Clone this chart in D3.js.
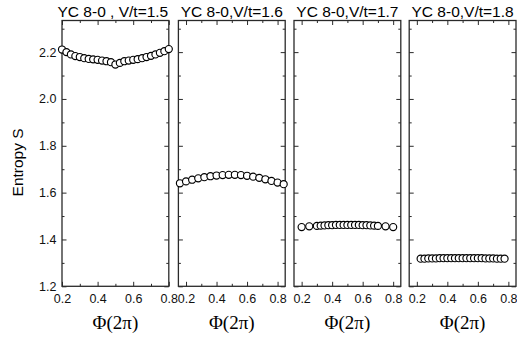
<!DOCTYPE html>
<html><head><meta charset="utf-8">
<script src="https://cdn.jsdelivr.net/npm/d3@7"></script>
<style>body{margin:0;background:#fff}svg{display:block}</style>
</head><body><svg id="c" width="517" height="337"></svg>
<script>
// ---- data ----
const panelTitles = ["YC 8-0 , V/t=1.5", "YC 8-0,V/t=1.6", "YC 8-0,V/t=1.7", "YC 8-0,V/t=1.8"];
const xDomains = [[0.2, 0.8], [0.15, 0.85], [0.15, 0.85], [0.15, 0.85]];
const yDomain = [1.2, 2.335];
const xTicks = [0.2, 0.4, 0.6, 0.8];
const xMinorTicks = [0.3, 0.5, 0.7];
const yTicks = [1.2, 1.4, 1.6, 1.8, 2.0, 2.2];
const yMinorTicks = [1.3, 1.5, 1.7, 1.9, 2.1, 2.3];
const yLabel = "Entropy S";
const xLabel = "Φ(2π)";

const phi1 = [0.2,0.225,0.25,0.275,0.3,0.325,0.35,0.375,0.4,0.425,0.45,0.475,0.5,0.525,0.55,0.575,0.6,0.625,0.65,0.675,0.7,0.725,0.75,0.775,0.8];
const s1 = [2.211,2.200,2.190,2.183,2.179,2.174,2.171,2.169,2.167,2.164,2.161,2.157,2.147,2.154,2.161,2.164,2.167,2.170,2.174,2.179,2.184,2.190,2.197,2.204,2.213];

const phi2 = [0.16,0.2,0.24,0.28,0.32,0.36,0.4,0.44,0.48,0.52,0.56,0.6,0.64,0.68,0.72,0.76,0.8,0.84];
const s2 = [1.640,1.648,1.655,1.661,1.666,1.670,1.673,1.675,1.676,1.676,1.675,1.672,1.668,1.663,1.657,1.650,1.643,1.636];

const phi3 = [0.2,0.25,0.3,0.325,0.35,0.375,0.4,0.425,0.45,0.475,0.5,0.525,0.55,0.575,0.6,0.625,0.65,0.675,0.7,0.75,0.8];
const s3 = [1.453,1.456,1.458,1.459,1.460,1.461,1.461,1.462,1.462,1.462,1.462,1.462,1.462,1.462,1.461,1.461,1.460,1.459,1.458,1.456,1.453];

const phi4 = [0.225,0.25,0.275,0.3,0.325,0.35,0.375,0.4,0.425,0.45,0.475,0.5,0.525,0.55,0.575,0.6,0.625,0.65,0.675,0.7,0.725,0.75,0.775];
const s4 = [1.318,1.318,1.319,1.319,1.319,1.320,1.320,1.320,1.320,1.320,1.320,1.320,1.320,1.320,1.320,1.320,1.320,1.319,1.319,1.319,1.318,1.318,1.318];

const seriesX = [phi1, phi2, phi3, phi4];
const seriesY = [s1, s2, s3, s4];

// ---- layout ----
const lefts = [62, 178.4, 294, 409.2];
const pw = 106.8, plotTop = 20.5, plotBottom = 286.3;
const axisColor = "#2a2a2a";
const sans = "'Liberation Sans', Arial, sans-serif";
const serif = "'Liberation Serif', 'Times New Roman', serif";

const svg = d3.select("#c");
const y = d3.scaleLinear().domain(yDomain).range([plotBottom, plotTop]);

function styleAxis(g) {
  g.select(".domain").remove();
  g.selectAll("line").attr("stroke", axisColor).attr("stroke-width", 1);
  g.selectAll("text").attr("fill", "#111").style("font-family", sans).style("font-size", "12.5px");
}

seriesX.forEach((xs, i) => {
  const L = lefts[i];
  const x = d3.scaleLinear().domain(xDomains[i]).range([L, L + pw]);
  const g = svg.append("g");

  g.append("g").attr("transform", `translate(0,${plotBottom})`)
    .call(d3.axisBottom(x).tickValues(xTicks).tickFormat(d3.format(".1f")).tickSize(-4.5).tickSizeOuter(0).tickPadding(7.5))
    .call(styleAxis);
  g.append("g").attr("transform", `translate(0,${plotBottom})`)
    .call(d3.axisBottom(x).tickValues(xMinorTicks).tickFormat("").tickSize(-2.5).tickSizeOuter(0))
    .call(styleAxis);
  g.append("g").attr("transform", `translate(0,${plotTop})`)
    .call(d3.axisTop(x).tickValues(xTicks).tickFormat("").tickSize(-4.5).tickSizeOuter(0))
    .call(styleAxis);
  g.append("g").attr("transform", `translate(0,${plotTop})`)
    .call(d3.axisTop(x).tickValues(xMinorTicks).tickFormat("").tickSize(-2.5).tickSizeOuter(0))
    .call(styleAxis);
  g.append("g").attr("transform", `translate(${L},0)`)
    .call(d3.axisLeft(y).tickValues(yTicks).tickFormat(i === 0 ? d3.format(".1f") : "").tickSize(-4.5).tickSizeOuter(0).tickPadding(5.5))
    .call(styleAxis);
  g.append("g").attr("transform", `translate(${L},0)`)
    .call(d3.axisLeft(y).tickValues(yMinorTicks).tickFormat("").tickSize(-2.5).tickSizeOuter(0))
    .call(styleAxis);
  g.append("g").attr("transform", `translate(${L + pw},0)`)
    .call(d3.axisRight(y).tickValues(yTicks).tickFormat("").tickSize(-4.5).tickSizeOuter(0))
    .call(styleAxis);
  g.append("g").attr("transform", `translate(${L + pw},0)`)
    .call(d3.axisRight(y).tickValues(yMinorTicks).tickFormat("").tickSize(-2.5).tickSizeOuter(0))
    .call(styleAxis);

  g.append("rect").attr("x", L).attr("y", plotTop).attr("width", pw).attr("height", plotBottom - plotTop)
    .attr("fill", "none").attr("stroke", axisColor).attr("stroke-width", 1.3);

  g.append("g").selectAll("circle").data(xs.map((v, k) => [v, seriesY[i][k]])).join("circle")
    .attr("cx", d => x(d[0])).attr("cy", d => y(d[1])).attr("r", 3.55)
    .attr("fill", "#fff").attr("stroke", "#000").attr("stroke-width", 1.15);

  svg.append("text").attr("x", L + pw / 2 - (i === 0 ? 2.5 : 0)).attr("y", 16.5)
    .attr("text-anchor", "middle").style("font-family", sans).style("font-size", "15.5px")
    .attr("fill", "#000").text(panelTitles[i]);

  svg.append("text").attr("x", L + pw / 2).attr("y", 329)
    .attr("text-anchor", "middle").style("font-family", serif).style("font-size", "19px")
    .attr("fill", "#000").text(xLabel);
});

svg.append("text").attr("transform", "translate(23.3,162.4) rotate(-90)")
  .attr("text-anchor", "middle").style("font-family", sans).style("font-size", "15.5px")
  .attr("fill", "#000").text(yLabel);
</script>
</body></html>
